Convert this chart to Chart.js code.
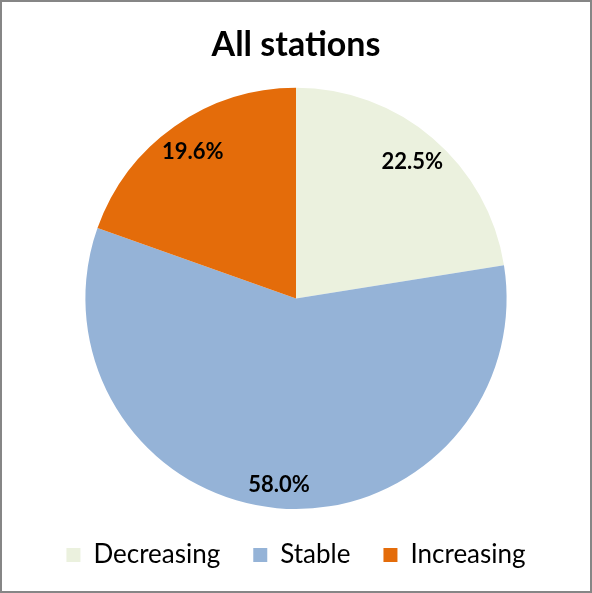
<!DOCTYPE html>
<html>
<head>
<meta charset="utf-8">
<script src="https://cdn.jsdelivr.net/npm/chart.js@4"></script>
<style>
  html, body { margin: 0; padding: 0; background: #fff; }
  #wrap { position: absolute; left: 0; top: 0; width: 592px; height: 593px; box-sizing: border-box; border: 2px solid #868686; }
  #c { display: block; }
</style>
</head>
<body>
<div id="wrap"><canvas id="c" width="588" height="589"></canvas></div>
<script>
const categories = ["Decreasing", "Stable", "Increasing"];
const shares = [22.5, 58.0, 19.6];
const colors = ["#EBF1DE", "#95B3D7", "#E46C0A"];
const titleText = "All stations";
const FONT = "Lato, 'Open Sans', sans-serif";

const labelPlugin = {
  id: 'sliceLabels',
  afterDatasetsDraw(chart) {
    const ctx = chart.ctx;
    const meta = chart.getDatasetMeta(0);
    ctx.save();
    ctx.font = "bold 22px " + FONT;
    ctx.fillStyle = "#000";
    ctx.textAlign = "center";
    ctx.textBaseline = "middle";
    meta.data.forEach((arc, i) => {
      const p = arc.getProps(['x', 'y', 'startAngle', 'endAngle', 'outerRadius'], true);
      const mid = (p.startAngle + p.endAngle) / 2;
      const f = shares[i] > 50 ? 0.89 : 0.85;
      const x = p.x + Math.cos(mid) * p.outerRadius * f;
      const y = p.y + Math.sin(mid) * p.outerRadius * f;
      ctx.fillText(shares[i].toFixed(1) + "%", x, y);
    });
    ctx.restore();
  }
};

new Chart(document.getElementById('c'), {
  type: 'pie',
  data: {
    labels: categories,
    datasets: [{ data: shares, backgroundColor: colors, borderWidth: 0 }]
  },
  options: {
    responsive: false,
    animation: false,
    layout: { padding: { left: 0, right: 0, top: 0, bottom: 13 } },
    plugins: {
      title: {
        display: true, text: titleText, color: "#000",
        font: { family: FONT, size: 34, weight: 'bold' },
        padding: { top: 23, bottom: 22 }
      },
      legend: {
        position: 'bottom',
        labels: {
          color: "#000", boxWidth: 14, boxHeight: 14, padding: 33,
          font: { family: FONT, size: 26 }
        }
      },
      tooltip: { enabled: false }
    }
  },
  plugins: [labelPlugin]
});
</script>
</body>
</html>
